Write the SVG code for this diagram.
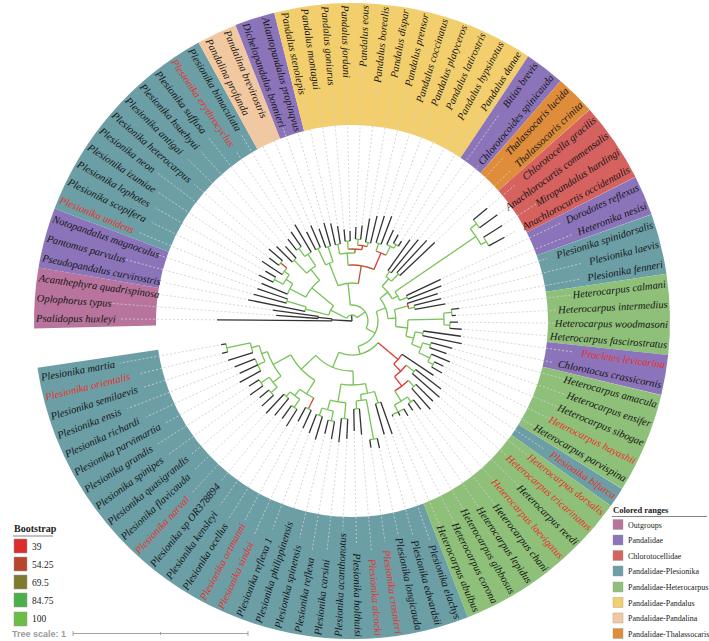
<svg xmlns="http://www.w3.org/2000/svg" width="709" height="641" viewBox="0 0 709 641">
<style>
.bd{fill:none;stroke-width:122}
#branches line,#branches circle{fill:none;stroke-width:1.3}
.k{stroke:#333}
.g{stroke:#78c358}
.r{stroke:#e0392f}
.b{stroke:#b9562f}
#leaders line{stroke:#cfcfcf;stroke-width:0.8;stroke-dasharray:2 2}
text.n{font-family:"Liberation Serif",serif;font-style:italic;font-size:10.5px;fill:#151515;dominant-baseline:central}
text.R{text-anchor:end}
text.L{text-anchor:start}
text.red{fill:#e8302a}
.lg{font-family:"Liberation Serif",serif;fill:#222}
</style>
<rect width="709" height="641" fill="#fff"/>
<g id="bands" transform="translate(352 321)">
<circle class="bd" r="257" pathLength="360" stroke="#b8749c" stroke-dasharray="11.03 360" transform="rotate(178.66)"/>
<circle class="bd" r="257" pathLength="360" stroke="#8c74ba" stroke-dasharray="11.03 360" transform="rotate(189.69)"/>
<circle class="bd" r="257" pathLength="360" stroke="#6c9ea6" stroke-dasharray="40.44 360" transform="rotate(200.72)"/>
<circle class="bd" r="257" pathLength="360" stroke="#f2c8a0" stroke-dasharray="7.35 360" transform="rotate(241.16)"/>
<circle class="bd" r="257" pathLength="360" stroke="#8c74ba" stroke-dasharray="7.35 360" transform="rotate(248.51)"/>
<circle class="bd" r="257" pathLength="360" stroke="#f2ce6d" stroke-dasharray="47.79 360" transform="rotate(255.86)"/>
<circle class="bd" r="257" pathLength="360" stroke="#8c74ba" stroke-dasharray="7.35 360" transform="rotate(303.65)"/>
<circle class="bd" r="257" pathLength="360" stroke="#df8d3b" stroke-dasharray="7.35 360" transform="rotate(311)"/>
<circle class="bd" r="257" pathLength="360" stroke="#d6625f" stroke-dasharray="14.71 360" transform="rotate(318.35)"/>
<circle class="bd" r="257" pathLength="360" stroke="#8c74ba" stroke-dasharray="7.35 360" transform="rotate(333.06)"/>
<circle class="bd" r="257" pathLength="360" stroke="#6c9ea6" stroke-dasharray="11.03 360" transform="rotate(340.41)"/>
<circle class="bd" r="257" pathLength="360" stroke="#8fc07a" stroke-dasharray="14.7 360" transform="rotate(351.44)"/>
<circle class="bd" r="257" pathLength="360" stroke="#8c74ba" stroke-dasharray="7.35 360" transform="rotate(6.14)"/>
<circle class="bd" r="257" pathLength="360" stroke="#8fc07a" stroke-dasharray="18.38 360" transform="rotate(13.49)"/>
<circle class="bd" r="257" pathLength="360" stroke="#6c9ea6" stroke-dasharray="3.67 360" transform="rotate(31.87)"/>
<circle class="bd" r="257" pathLength="360" stroke="#8fc07a" stroke-dasharray="33.09 360" transform="rotate(35.54)"/>
<circle class="bd" r="257" pathLength="360" stroke="#6c9ea6" stroke-dasharray="102.93 360" transform="rotate(68.63)"/>
</g>
<g id="leaders" transform="translate(352 321)">
<line x1="137" x2="232" transform="rotate(180.5)"/><line x1="78" x2="241" transform="rotate(184.18)"/><line x1="82" x2="196" transform="rotate(187.85)"/>
<line x1="108" x2="191" transform="rotate(191.53)"/><line x1="104" x2="236" transform="rotate(195.2)"/><line x1="102" x2="209" transform="rotate(198.88)"/>
<line x1="100" x2="232" transform="rotate(202.56)"/><line x1="106" x2="223" transform="rotate(206.23)"/><line x1="102" x2="227" transform="rotate(209.91)"/>
<line x1="110" x2="232" transform="rotate(213.58)"/><line x1="106" x2="245" transform="rotate(217.26)"/><line x1="112" x2="209" transform="rotate(220.94)"/>
<line x1="108" x2="232" transform="rotate(224.61)"/><line x1="102" x2="227" transform="rotate(228.29)"/><line x1="106" x2="232" transform="rotate(231.96)"/>
<line x1="110" x2="205" transform="rotate(235.64)"/><line x1="114" x2="218" transform="rotate(239.32)"/><line x1="102" x2="232" transform="rotate(242.99)"/>
<line x1="106" x2="214" transform="rotate(246.67)"/><line x1="100" x2="205" transform="rotate(250.34)"/><line x1="104" x2="196" transform="rotate(254.02)"/>
<line x1="102" x2="227" transform="rotate(257.7)"/><line x1="98" x2="236" transform="rotate(261.37)"/><line x1="94" x2="236" transform="rotate(265.05)"/>
<line x1="92" x2="241" transform="rotate(268.72)"/><line x1="96" x2="254" transform="rotate(272.4)"/><line x1="98" x2="236" transform="rotate(276.08)"/>
<line x1="106" x2="245" transform="rotate(279.75)"/><line x1="110" x2="241" transform="rotate(283.43)"/><line x1="112" x2="227" transform="rotate(287.1)"/>
<line x1="114" x2="227" transform="rotate(290.78)"/><line x1="102" x2="223" transform="rotate(294.46)"/><line x1="100" x2="227" transform="rotate(298.13)"/>
<line x1="96" x2="250" transform="rotate(301.81)"/><line x1="102" x2="254" transform="rotate(305.48)"/><line x1="107" x2="200" transform="rotate(309.16)"/>
<line x1="112" x2="223" transform="rotate(312.84)"/><line x1="116" x2="218" transform="rotate(316.51)"/><line x1="178" x2="214" transform="rotate(320.19)"/>
<line x1="182" x2="191" transform="rotate(323.86)"/><line x1="180" x2="218" transform="rotate(327.54)"/><line x1="176" x2="187" transform="rotate(331.22)"/>
<line x1="100" x2="232" transform="rotate(334.89)"/><line x1="98" x2="236" transform="rotate(338.57)"/>
<line x1="92" x2="205" transform="rotate(342.24)"/><line x1="94" x2="236" transform="rotate(345.92)"/><line x1="97" x2="232" transform="rotate(349.6)"/>
<line x1="110" x2="223" transform="rotate(353.27)"/><line x1="106" x2="205" transform="rotate(356.95)"/><line x1="108" x2="209" transform="rotate(0.62)"/>
<line x1="112" x2="195" transform="rotate(4.3)"/><line x1="112" x2="223" transform="rotate(7.97)"/><line x1="114" x2="205" transform="rotate(11.65)"/>
<line x1="106" x2="223" transform="rotate(15.32)"/><line x1="102" x2="227" transform="rotate(19)"/><line x1="108" x2="227" transform="rotate(22.68)"/>
<line x1="104" x2="223" transform="rotate(26.35)"/><line x1="106" x2="214" transform="rotate(30.03)"/><line x1="100" x2="232" transform="rotate(33.7)"/>
<line x1="114" x2="223" transform="rotate(37.38)"/><line x1="118" x2="205" transform="rotate(41.06)"/><line x1="116" x2="236" transform="rotate(44.73)"/>
<line x1="120" x2="214" transform="rotate(48.41)"/><line x1="114" x2="236" transform="rotate(52.08)"/><line x1="110" x2="227" transform="rotate(55.76)"/>
<line x1="112" x2="223" transform="rotate(59.44)"/><line x1="108" x2="232" transform="rotate(63.11)"/><line x1="106" x2="227" transform="rotate(66.79)"/>
<line x1="122" x2="232" transform="rotate(70.46)"/><line x1="120" x2="223" transform="rotate(74.14)"/><line x1="132" x2="218" transform="rotate(77.82)"/>
<line x1="130" x2="223" transform="rotate(81.49)"/><line x1="116" x2="232" transform="rotate(85.17)"/><line x1="112" x2="223" transform="rotate(88.84)"/>
<line x1="120" x2="209" transform="rotate(92.52)"/><line x1="124" x2="232" transform="rotate(96.2)"/><line x1="122" x2="232" transform="rotate(99.87)"/>
<line x1="118" x2="223" transform="rotate(103.55)"/><line x1="126" x2="196" transform="rotate(107.22)"/><line x1="122" x2="223" transform="rotate(110.9)"/>
<line x1="120" x2="236" transform="rotate(114.58)"/><line x1="116" x2="227" transform="rotate(118.25)"/><line x1="126" x2="232" transform="rotate(121.93)"/>
<line x1="122" x2="227" transform="rotate(125.6)"/><line x1="124" x2="208" transform="rotate(129.28)"/><line x1="128" x2="236" transform="rotate(132.96)"/>
<line x1="126" x2="218" transform="rotate(136.63)"/><line x1="122" x2="209" transform="rotate(140.31)"/><line x1="128" x2="227" transform="rotate(143.98)"/>
<line x1="124" x2="232" transform="rotate(147.66)"/><line x1="130" x2="214" transform="rotate(151.34)"/><line x1="126" x2="227" transform="rotate(155.01)"/>
<line x1="128" x2="241" transform="rotate(158.69)"/><line x1="132" x2="218" transform="rotate(162.36)"/><line x1="136" x2="218" transform="rotate(166.04)"/>
<line x1="135" x2="236" transform="rotate(169.72)"/>
</g>
<g id="branches" transform="translate(352 321)">
<line class="k" x2="20" transform="rotate(183.26)"/>
<line class="k" x2="6" transform="rotate(266.3)"/>
<circle class="k" r="20" pathLength="360" stroke-dasharray="5.52 360" transform="rotate(180.5)"/>
<line class="k" x1="20" x2="135" transform="rotate(180.5)"/>
<line class="k" x1="20" x2="34" transform="rotate(186.02)"/>
<circle class="k" r="34" pathLength="360" stroke-dasharray="3.67 360" transform="rotate(184.18)"/>
<line class="k" x1="34" x2="76" transform="rotate(184.18)"/>
<line class="k" x1="34" x2="80" transform="rotate(187.85)"/>
<circle class="g" r="6" pathLength="360" stroke-dasharray="118.86 360" transform="rotate(206.87)"/>
<line class="g" x1="6" x2="24" transform="rotate(206.87)"/>
<line class="g" x1="6" x2="16" transform="rotate(325.73)"/>
<circle class="g" r="24" pathLength="360" stroke-dasharray="25.16 360" transform="rotate(194.29)"/>
<line class="g" x1="24" x2="48" transform="rotate(194.29)"/>
<line class="g" x1="24" x2="52" transform="rotate(219.45)"/>
<circle class="g" r="48" pathLength="360" stroke-dasharray="5.51 360" transform="rotate(191.53)"/>
<line class="k" x1="48" x2="106" transform="rotate(191.53)"/>
<line class="g" x1="48" x2="68" transform="rotate(197.04)"/>
<circle class="g" r="68" pathLength="360" stroke-dasharray="3.68 360" transform="rotate(195.2)"/>
<line class="k" x1="68" x2="102" transform="rotate(195.2)"/>
<line class="k" x1="68" x2="100" transform="rotate(198.88)"/>
<circle class="g" r="52" pathLength="360" stroke-dasharray="24.12 360" transform="rotate(207.39)"/>
<line class="g" x1="52" x2="70" transform="rotate(207.39)"/>
<line class="g" x1="52" x2="66" transform="rotate(231.51)"/>
<circle class="g" r="70" pathLength="360" stroke-dasharray="9.65 360" transform="rotate(202.56)"/>
<line class="k" x1="70" x2="98" transform="rotate(202.56)"/>
<line class="g" x1="70" x2="78" transform="rotate(212.21)"/>
<circle class="g" r="78" pathLength="360" stroke-dasharray="8.27 360" transform="rotate(208.07)"/>
<line class="g" x1="78" x2="88" transform="rotate(208.07)"/>
<line class="g" x1="78" x2="84" transform="rotate(216.34)"/>
<circle class="g" r="88" pathLength="360" stroke-dasharray="3.68 360" transform="rotate(206.23)"/>
<line class="k" x1="88" x2="104" transform="rotate(206.23)"/>
<line class="k" x1="88" x2="100" transform="rotate(209.91)"/>
<circle class="g" r="84" pathLength="360" stroke-dasharray="5.52 360" transform="rotate(213.58)"/>
<line class="k" x1="84" x2="108" transform="rotate(213.58)"/>
<line class="r" x1="84" x2="92" transform="rotate(219.1)"/>
<circle class="g" r="92" pathLength="360" stroke-dasharray="3.68 360" transform="rotate(217.26)"/>
<line class="k" x1="92" x2="104" transform="rotate(217.26)"/>
<line class="k" x1="92" x2="110" transform="rotate(220.94)"/>
<circle class="g" r="66" pathLength="360" stroke-dasharray="10.11 360" transform="rotate(226.45)"/>
<line class="g" x1="66" x2="84" transform="rotate(226.45)"/>
<line class="g" x1="66" x2="80" transform="rotate(236.56)"/>
<circle class="g" r="84" pathLength="360" stroke-dasharray="3.68 360" transform="rotate(224.61)"/>
<line class="k" x1="84" x2="106" transform="rotate(224.61)"/>
<line class="k" x1="84" x2="100" transform="rotate(228.29)"/>
<circle class="g" r="80" pathLength="360" stroke-dasharray="5.52 360" transform="rotate(233.8)"/>
<line class="g" x1="80" x2="90" transform="rotate(233.8)"/>
<line class="k" x1="80" x2="112" transform="rotate(239.32)"/>
<circle class="g" r="90" pathLength="360" stroke-dasharray="3.68 360" transform="rotate(231.96)"/>
<line class="k" x1="90" x2="104" transform="rotate(231.96)"/>
<line class="k" x1="90" x2="108" transform="rotate(235.64)"/>
<circle class="g" r="16" pathLength="360" stroke-dasharray="123.41 360" transform="rotate(264.02)"/>
<line class="g" x1="16" x2="38" transform="rotate(264.02)"/>
<line class="g" x1="16" x2="26" transform="rotate(387.43)"/>
<circle class="g" r="38" pathLength="360" stroke-dasharray="31.02 360" transform="rotate(248.51)"/>
<line class="g" x1="38" x2="62" transform="rotate(248.51)"/>
<line class="b" x1="38" x2="56" transform="rotate(279.53)"/>
<circle class="g" r="62" pathLength="360" stroke-dasharray="7.35 360" transform="rotate(244.83)"/>
<line class="g" x1="62" x2="80" transform="rotate(244.83)"/>
<line class="g" x1="62" x2="78" transform="rotate(252.18)"/>
<circle class="g" r="80" pathLength="360" stroke-dasharray="3.68 360" transform="rotate(242.99)"/>
<line class="k" x1="80" x2="100" transform="rotate(242.99)"/>
<line class="k" x1="80" x2="104" transform="rotate(246.67)"/>
<circle class="g" r="78" pathLength="360" stroke-dasharray="3.68 360" transform="rotate(250.34)"/>
<line class="k" x1="78" x2="98" transform="rotate(250.34)"/>
<line class="k" x1="78" x2="102" transform="rotate(254.02)"/>
<circle class="b" r="56" pathLength="360" stroke-dasharray="27.1 360" transform="rotate(265.98)"/>
<line class="g" x1="56" x2="68" transform="rotate(265.98)"/>
<line class="r" x1="56" x2="74" transform="rotate(293.08)"/>
<circle class="g" r="68" pathLength="360" stroke-dasharray="12.87 360" transform="rotate(259.54)"/>
<line class="g" x1="68" x2="78" transform="rotate(259.54)"/>
<line class="b" x1="68" x2="72" transform="rotate(272.41)"/>
<circle class="g" r="78" pathLength="360" stroke-dasharray="3.67 360" transform="rotate(257.7)"/>
<line class="k" x1="78" x2="100" transform="rotate(257.7)"/>
<line class="k" x1="78" x2="96" transform="rotate(261.37)"/>
<circle class="b" r="72" pathLength="360" stroke-dasharray="11.03 360" transform="rotate(266.89)"/>
<line class="g" x1="72" x2="80" transform="rotate(266.89)"/>
<line class="r" x1="72" x2="76" transform="rotate(277.92)"/>
<circle class="g" r="80" pathLength="360" stroke-dasharray="3.67 360" transform="rotate(265.05)"/>
<line class="k" x1="80" x2="92" transform="rotate(265.05)"/>
<line class="k" x1="80" x2="90" transform="rotate(268.72)"/>
<circle class="r" r="76" pathLength="360" stroke-dasharray="7.35 360" transform="rotate(274.24)"/>
<line class="g" x1="76" x2="82" transform="rotate(274.24)"/>
<line class="g" x1="76" x2="80" transform="rotate(281.59)"/>
<circle class="g" r="82" pathLength="360" stroke-dasharray="3.68 360" transform="rotate(272.4)"/>
<line class="k" x1="82" x2="94" transform="rotate(272.4)"/>
<line class="k" x1="82" x2="96" transform="rotate(276.08)"/>
<circle class="g" r="80" pathLength="360" stroke-dasharray="3.68 360" transform="rotate(279.75)"/>
<line class="k" x1="80" x2="104" transform="rotate(279.75)"/>
<line class="k" x1="80" x2="108" transform="rotate(283.43)"/>
<circle class="r" r="74" pathLength="360" stroke-dasharray="8.28 360" transform="rotate(288.94)"/>
<line class="g" x1="74" x2="82" transform="rotate(288.94)"/>
<line class="g" x1="74" x2="84" transform="rotate(297.22)"/>
<circle class="g" r="82" pathLength="360" stroke-dasharray="3.68 360" transform="rotate(287.1)"/>
<line class="k" x1="82" x2="110" transform="rotate(287.1)"/>
<line class="k" x1="82" x2="112" transform="rotate(290.78)"/>
<circle class="g" r="84" pathLength="360" stroke-dasharray="5.51 360" transform="rotate(294.46)"/>
<line class="k" x1="84" x2="100" transform="rotate(294.46)"/>
<line class="g" x1="84" x2="88" transform="rotate(299.97)"/>
<circle class="g" r="88" pathLength="360" stroke-dasharray="3.68 360" transform="rotate(298.13)"/>
<line class="k" x1="88" x2="98" transform="rotate(298.13)"/>
<line class="k" x1="88" x2="94" transform="rotate(301.81)"/>
<circle class="g" r="26" pathLength="360" stroke-dasharray="97.65 360" transform="rotate(338.6)"/>
<line class="g" x1="26" x2="36" transform="rotate(338.6)"/>
<line class="g" x1="26" x2="34" transform="rotate(436.25)"/>
<circle class="g" r="36" pathLength="360" stroke-dasharray="34.98 360" transform="rotate(321.11)"/>
<line class="g" x1="36" x2="46" transform="rotate(321.11)"/>
<line class="g" x1="36" x2="44" transform="rotate(356.09)"/>
<circle class="g" r="46" pathLength="360" stroke-dasharray="20.22 360" transform="rotate(311)"/>
<line class="g" x1="46" x2="56" transform="rotate(311)"/>
<line class="g" x1="46" x2="52" transform="rotate(331.22)"/>
<circle class="g" r="56" pathLength="360" stroke-dasharray="7.36 360" transform="rotate(307.32)"/>
<line class="g" x1="56" x2="62" transform="rotate(307.32)"/>
<line class="g" x1="56" x2="66" transform="rotate(314.68)"/>
<circle class="g" r="62" pathLength="360" stroke-dasharray="3.68 360" transform="rotate(305.48)"/>
<line class="k" x1="62" x2="100" transform="rotate(305.48)"/>
<line class="k" x1="62" x2="105" transform="rotate(309.16)"/>
<circle class="g" r="66" pathLength="360" stroke-dasharray="3.67 360" transform="rotate(312.84)"/>
<line class="k" x1="66" x2="110" transform="rotate(312.84)"/>
<line class="k" x1="66" x2="114" transform="rotate(316.51)"/>
<circle class="g" r="52" pathLength="360" stroke-dasharray="11.02 360" transform="rotate(325.71)"/>
<line class="g" x1="52" x2="150" transform="rotate(325.71)"/>
<line class="g" x1="52" x2="60" transform="rotate(336.73)"/>
<circle class="g" r="150" pathLength="360" stroke-dasharray="7.35 360" transform="rotate(322.03)"/>
<line class="g" x1="150" x2="158" transform="rotate(322.03)"/>
<line class="g" x1="150" x2="156" transform="rotate(329.38)"/>
<circle class="g" r="158" pathLength="360" stroke-dasharray="3.67 360" transform="rotate(320.19)"/>
<line class="k" x1="158" x2="176" transform="rotate(320.19)"/>
<line class="k" x1="158" x2="180" transform="rotate(323.86)"/>
<circle class="g" r="156" pathLength="360" stroke-dasharray="3.68 360" transform="rotate(327.54)"/>
<line class="k" x1="156" x2="178" transform="rotate(327.54)"/>
<line class="k" x1="156" x2="174" transform="rotate(331.22)"/>
<circle class="g" r="60" pathLength="360" stroke-dasharray="3.68 360" transform="rotate(334.89)"/>
<line class="k" x1="60" x2="98" transform="rotate(334.89)"/>
<line class="k" x1="60" x2="96" transform="rotate(338.57)"/>
<circle class="g" r="44" pathLength="360" stroke-dasharray="22.18 360" transform="rotate(345)"/>
<line class="g" x1="44" x2="58" transform="rotate(345)"/>
<line class="g" x1="44" x2="56" transform="rotate(367.18)"/>
<circle class="r" r="58" pathLength="360" stroke-dasharray="5.52 360" transform="rotate(342.24)"/>
<line class="k" x1="58" x2="90" transform="rotate(342.24)"/>
<line class="g" x1="58" x2="64" transform="rotate(347.76)"/>
<circle class="g" r="64" pathLength="360" stroke-dasharray="3.68 360" transform="rotate(345.92)"/>
<line class="k" x1="64" x2="92" transform="rotate(345.92)"/>
<line class="k" x1="64" x2="95" transform="rotate(349.6)"/>
<circle class="g" r="56" pathLength="360" stroke-dasharray="16.77 360" transform="rotate(358.79)"/>
<line class="g" x1="56" x2="92" transform="rotate(358.79)"/>
<line class="g" x1="56" x2="64" transform="rotate(375.56)"/>
<circle class="g" r="92" pathLength="360" stroke-dasharray="7.35 360" transform="rotate(355.11)"/>
<line class="g" x1="92" x2="100" transform="rotate(355.11)"/>
<line class="g" x1="92" x2="98" transform="rotate(362.46)"/>
<circle class="g" r="100" pathLength="360" stroke-dasharray="3.68 360" transform="rotate(353.27)"/>
<line class="k" x1="100" x2="108" transform="rotate(353.27)"/>
<line class="k" x1="100" x2="104" transform="rotate(356.95)"/>
<circle class="g" r="98" pathLength="360" stroke-dasharray="3.68 360" transform="rotate(360.62)"/>
<line class="k" x1="98" x2="106" transform="rotate(360.62)"/>
<line class="k" x1="98" x2="110" transform="rotate(364.3)"/>
<circle class="g" r="64" pathLength="360" stroke-dasharray="11.49 360" transform="rotate(369.81)"/>
<line class="g" x1="64" x2="72" transform="rotate(369.81)"/>
<line class="g" x1="64" x2="74" transform="rotate(381.3)"/>
<circle class="g" r="72" pathLength="360" stroke-dasharray="3.68 360" transform="rotate(367.97)"/>
<line class="k" x1="72" x2="110" transform="rotate(367.97)"/>
<line class="k" x1="72" x2="112" transform="rotate(371.65)"/>
<circle class="g" r="74" pathLength="360" stroke-dasharray="8.28 360" transform="rotate(377.16)"/>
<line class="g" x1="74" x2="82" transform="rotate(377.16)"/>
<line class="g" x1="74" x2="86" transform="rotate(385.44)"/>
<circle class="g" r="82" pathLength="360" stroke-dasharray="3.68 360" transform="rotate(375.32)"/>
<line class="k" x1="82" x2="104" transform="rotate(375.32)"/>
<line class="k" x1="82" x2="100" transform="rotate(379)"/>
<circle class="g" r="86" pathLength="360" stroke-dasharray="5.51 360" transform="rotate(382.68)"/>
<line class="k" x1="86" x2="106" transform="rotate(382.68)"/>
<line class="g" x1="86" x2="92" transform="rotate(388.19)"/>
<circle class="g" r="92" pathLength="360" stroke-dasharray="3.68 360" transform="rotate(386.35)"/>
<line class="k" x1="92" x2="102" transform="rotate(386.35)"/>
<line class="k" x1="92" x2="104" transform="rotate(390.03)"/>
<circle class="g" r="34" pathLength="360" stroke-dasharray="72.89 360" transform="rotate(399.8)"/>
<line class="r" x1="34" x2="60" transform="rotate(399.8)"/>
<line class="g" x1="34" x2="50" transform="rotate(472.69)"/>
<circle class="r" r="60" pathLength="360" stroke-dasharray="12.19 360" transform="rotate(393.7)"/>
<line class="k" x1="60" x2="98" transform="rotate(393.7)"/>
<line class="r" x1="60" x2="70" transform="rotate(405.89)"/>
<circle class="r" r="70" pathLength="360" stroke-dasharray="13.33 360" transform="rotate(399.22)"/>
<line class="g" x1="70" x2="80" transform="rotate(399.22)"/>
<line class="r" x1="70" x2="82" transform="rotate(412.55)"/>
<circle class="g" r="80" pathLength="360" stroke-dasharray="3.68 360" transform="rotate(397.38)"/>
<line class="k" x1="80" x2="112" transform="rotate(397.38)"/>
<line class="k" x1="80" x2="116" transform="rotate(401.06)"/>
<circle class="r" r="82" pathLength="360" stroke-dasharray="11.95 360" transform="rotate(406.57)"/>
<line class="g" x1="82" x2="90" transform="rotate(406.57)"/>
<line class="g" x1="82" x2="94" transform="rotate(418.52)"/>
<circle class="g" r="90" pathLength="360" stroke-dasharray="3.68 360" transform="rotate(404.73)"/>
<line class="k" x1="90" x2="114" transform="rotate(404.73)"/>
<line class="k" x1="90" x2="118" transform="rotate(408.41)"/>
<circle class="g" r="94" pathLength="360" stroke-dasharray="9.2 360" transform="rotate(413.92)"/>
<line class="g" x1="94" x2="100" transform="rotate(413.92)"/>
<line class="g" x1="94" x2="102" transform="rotate(423.12)"/>
<circle class="g" r="100" pathLength="360" stroke-dasharray="3.68 360" transform="rotate(412.08)"/>
<line class="k" x1="100" x2="112" transform="rotate(412.08)"/>
<line class="k" x1="100" x2="108" transform="rotate(415.76)"/>
<circle class="g" r="102" pathLength="360" stroke-dasharray="7.35 360" transform="rotate(419.44)"/>
<line class="k" x1="102" x2="110" transform="rotate(419.44)"/>
<line class="k" x1="102" x2="106" transform="rotate(423.11)"/>
<line class="k" x1="102" x2="104" transform="rotate(426.79)"/>
<circle class="g" r="50" pathLength="360" stroke-dasharray="47.68 360" transform="rotate(448.85)"/>
<line class="g" x1="50" x2="64" transform="rotate(448.85)"/>
<line class="g" x1="50" x2="70" transform="rotate(496.53)"/>
<circle class="g" r="64" pathLength="360" stroke-dasharray="22.06 360" transform="rotate(437.82)"/>
<line class="g" x1="64" x2="74" transform="rotate(437.82)"/>
<line class="g" x1="64" x2="82" transform="rotate(459.88)"/>
<circle class="g" r="74" pathLength="360" stroke-dasharray="11.04 360" transform="rotate(432.3)"/>
<line class="g" x1="74" x2="86" transform="rotate(432.3)"/>
<line class="g" x1="74" x2="80" transform="rotate(443.34)"/>
<circle class="g" r="86" pathLength="360" stroke-dasharray="3.68 360" transform="rotate(430.46)"/>
<line class="k" x1="86" x2="120" transform="rotate(430.46)"/>
<line class="k" x1="86" x2="118" transform="rotate(434.14)"/>
<circle class="g" r="80" pathLength="360" stroke-dasharray="7.35 360" transform="rotate(439.66)"/>
<line class="g" x1="80" x2="120" transform="rotate(439.66)"/>
<line class="g" x1="80" x2="88" transform="rotate(447.01)"/>
<circle class="g" r="120" pathLength="360" stroke-dasharray="3.67 360" transform="rotate(437.82)"/>
<line class="k" x1="120" x2="130" transform="rotate(437.82)"/>
<line class="k" x1="120" x2="128" transform="rotate(441.49)"/>
<circle class="g" r="88" pathLength="360" stroke-dasharray="3.67 360" transform="rotate(445.17)"/>
<line class="k" x1="88" x2="114" transform="rotate(445.17)"/>
<line class="k" x1="88" x2="110" transform="rotate(448.84)"/>
<circle class="g" r="82" pathLength="360" stroke-dasharray="11.03 360" transform="rotate(454.36)"/>
<line class="g" x1="82" x2="98" transform="rotate(454.36)"/>
<line class="g" x1="82" x2="92" transform="rotate(465.39)"/>
<circle class="g" r="98" pathLength="360" stroke-dasharray="3.68 360" transform="rotate(452.52)"/>
<line class="k" x1="98" x2="118" transform="rotate(452.52)"/>
<line class="k" x1="98" x2="122" transform="rotate(456.2)"/>
<circle class="g" r="92" pathLength="360" stroke-dasharray="7.35 360" transform="rotate(461.71)"/>
<line class="g" x1="92" x2="102" transform="rotate(461.71)"/>
<line class="g" x1="92" x2="100" transform="rotate(469.06)"/>
<circle class="g" r="102" pathLength="360" stroke-dasharray="3.68 360" transform="rotate(459.87)"/>
<line class="k" x1="102" x2="120" transform="rotate(459.87)"/>
<line class="k" x1="102" x2="116" transform="rotate(463.55)"/>
<circle class="g" r="100" pathLength="360" stroke-dasharray="3.68 360" transform="rotate(467.22)"/>
<line class="k" x1="100" x2="124" transform="rotate(467.22)"/>
<line class="k" x1="100" x2="120" transform="rotate(470.9)"/>
<circle class="g" r="70" pathLength="360" stroke-dasharray="29.17 360" transform="rotate(481.94)"/>
<line class="g" x1="70" x2="86" transform="rotate(481.94)"/>
<line class="g" x1="70" x2="90" transform="rotate(511.11)"/>
<circle class="g" r="86" pathLength="360" stroke-dasharray="11.03 360" transform="rotate(476.42)"/>
<line class="r" x1="86" x2="98" transform="rotate(476.42)"/>
<line class="g" x1="86" x2="94" transform="rotate(487.45)"/>
<circle class="g" r="98" pathLength="360" stroke-dasharray="3.67 360" transform="rotate(474.58)"/>
<line class="k" x1="98" x2="118" transform="rotate(474.58)"/>
<line class="k" x1="98" x2="114" transform="rotate(478.25)"/>
<circle class="g" r="94" pathLength="360" stroke-dasharray="7.35 360" transform="rotate(483.77)"/>
<line class="g" x1="94" x2="104" transform="rotate(483.77)"/>
<line class="g" x1="94" x2="100" transform="rotate(491.12)"/>
<circle class="g" r="104" pathLength="360" stroke-dasharray="3.67 360" transform="rotate(481.93)"/>
<line class="k" x1="104" x2="124" transform="rotate(481.93)"/>
<line class="k" x1="104" x2="120" transform="rotate(485.6)"/>
<circle class="g" r="100" pathLength="360" stroke-dasharray="3.68 360" transform="rotate(489.28)"/>
<line class="k" x1="100" x2="122" transform="rotate(489.28)"/>
<line class="k" x1="100" x2="126" transform="rotate(492.96)"/>
<circle class="g" r="90" pathLength="360" stroke-dasharray="17.92 360" transform="rotate(502.15)"/>
<line class="g" x1="90" x2="100" transform="rotate(502.15)"/>
<line class="g" x1="90" x2="96" transform="rotate(520.07)"/>
<circle class="g" r="100" pathLength="360" stroke-dasharray="7.35 360" transform="rotate(498.47)"/>
<line class="g" x1="100" x2="108" transform="rotate(498.47)"/>
<line class="g" x1="100" x2="110" transform="rotate(505.82)"/>
<circle class="g" r="108" pathLength="360" stroke-dasharray="3.68 360" transform="rotate(496.63)"/>
<line class="k" x1="108" x2="124" transform="rotate(496.63)"/>
<line class="k" x1="108" x2="120" transform="rotate(500.31)"/>
<circle class="g" r="110" pathLength="360" stroke-dasharray="3.68 360" transform="rotate(503.98)"/>
<line class="k" x1="110" x2="126" transform="rotate(503.98)"/>
<line class="k" x1="110" x2="122" transform="rotate(507.66)"/>
<circle class="g" r="96" pathLength="360" stroke-dasharray="10.1 360" transform="rotate(515.02)"/>
<line class="g" x1="96" x2="104" transform="rotate(515.02)"/>
<line class="g" x1="96" x2="104" transform="rotate(525.12)"/>
<circle class="g" r="104" pathLength="360" stroke-dasharray="7.35 360" transform="rotate(511.34)"/>
<line class="k" x1="104" x2="128" transform="rotate(511.34)"/>
<line class="k" x1="104" x2="124" transform="rotate(515.01)"/>
<line class="k" x1="104" x2="126" transform="rotate(518.69)"/>
<circle class="g" r="104" pathLength="360" stroke-dasharray="5.52 360" transform="rotate(522.36)"/>
<line class="k" x1="104" x2="130" transform="rotate(522.36)"/>
<line class="g" x1="104" x2="128" transform="rotate(527.88)"/>
<circle class="g" r="128" pathLength="360" stroke-dasharray="3.68 360" transform="rotate(526.04)"/>
<line class="k" x1="128" x2="134" transform="rotate(526.04)"/>
<line class="k" x1="128" x2="133" transform="rotate(529.72)"/>
</g>
<g id="labels" transform="translate(352 321)">
<g id="n1"><text class="n L" transform="rotate(180.5) translate(316) rotate(180)">Psalidopus huxleyi</text></g>
<g id="n2"><text class="n L" transform="rotate(184.18) translate(316) rotate(180)">Oplophorus typus</text></g>
<g id="n3"><text class="n L" transform="rotate(187.85) translate(316) rotate(180)">Acanthephyra quadrispinosa</text></g>
<g id="n4"><text class="n L" transform="rotate(191.53) translate(316) rotate(180)">Pseudopandalus curvirostris</text></g>
<g id="n5"><text class="n L" transform="rotate(195.2) translate(316) rotate(180)">Pantomus parvulus</text></g>
<g id="n6"><text class="n L" transform="rotate(198.88) translate(316) rotate(180)">Notopandalus magnoculus</text></g>
<g id="n7"><text class="n L red" transform="rotate(202.56) translate(316) rotate(180)">Plesionika unidens</text></g>
<g id="n8"><text class="n L" transform="rotate(206.23) translate(316) rotate(180)">Plesionika scopifera</text></g>
<g id="n9"><text class="n L" transform="rotate(209.91) translate(316) rotate(180)">Plesionika lophotes</text></g>
<g id="n10"><text class="n L" transform="rotate(213.58) translate(316) rotate(180)">Plesionika izumiae</text></g>
<g id="n11"><text class="n L" transform="rotate(217.26) translate(316) rotate(180)">Plesionika neon</text></g>
<g id="n12"><text class="n L" transform="rotate(220.94) translate(316) rotate(180)">Plesionika heterocarpus</text></g>
<g id="n13"><text class="n L" transform="rotate(224.61) translate(316) rotate(180)">Plesionika antigai</text></g>
<g id="n14"><text class="n L" transform="rotate(228.29) translate(316) rotate(180)">Plesionika hsuehyui</text></g>
<g id="n15"><text class="n L" transform="rotate(231.96) translate(316) rotate(180)">Plesionika suffusa</text></g>
<g id="n16"><text class="n L red" transform="rotate(235.64) translate(316) rotate(180)">Plesionika erythrocyclus</text></g>
<g id="n17"><text class="n L" transform="rotate(239.32) translate(316) rotate(180)">Plesionika bimaculata</text></g>
<g id="n18"><text class="n L" transform="rotate(242.99) translate(316) rotate(180)">Pandalina profunda</text></g>
<g id="n19"><text class="n L" transform="rotate(246.67) translate(316) rotate(180)">Pandalina brevirostris</text></g>
<g id="n20"><text class="n L" transform="rotate(250.34) translate(316) rotate(180)">Dichelopandalus bonnieri</text></g>
<g id="n21"><text class="n L" transform="rotate(254.02) translate(316) rotate(180)">Atlantopandalus propinqvus</text></g>
<g id="n22"><text class="n L" transform="rotate(257.7) translate(316) rotate(180)">Pandalus stenolepis</text></g>
<g id="n23"><text class="n L" transform="rotate(261.37) translate(316) rotate(180)">Pandalus montagui</text></g>
<g id="n24"><text class="n L" transform="rotate(265.05) translate(316) rotate(180)">Pandalus goniurus</text></g>
<g id="n25"><text class="n L" transform="rotate(268.72) translate(316) rotate(180)">Pandalus jordani</text></g>
<g id="n26"><text class="n R" transform="rotate(272.4) translate(316)">Pandalus eous</text></g>
<g id="n27"><text class="n R" transform="rotate(276.08) translate(316)">Pandalus borealis</text></g>
<g id="n28"><text class="n R" transform="rotate(279.75) translate(316)">Pandalus dispar</text></g>
<g id="n29"><text class="n R" transform="rotate(283.43) translate(316)">Pandalus prensor</text></g>
<g id="n30"><text class="n R" transform="rotate(287.1) translate(316)">Pandalus coccinatus</text></g>
<g id="n31"><text class="n R" transform="rotate(290.78) translate(316)">Pandalus platyceros</text></g>
<g id="n32"><text class="n R" transform="rotate(294.46) translate(316)">Pandalus latirostris</text></g>
<g id="n33"><text class="n R" transform="rotate(298.13) translate(316)">Pandalus hypsinotus</text></g>
<g id="n34"><text class="n R" transform="rotate(301.81) translate(316)">Pandalus danae</text></g>
<g id="n35"><text class="n R" transform="rotate(305.48) translate(316)">Bitias brevis</text></g>
<g id="n36"><text class="n R" transform="rotate(309.16) translate(316)">Chlorotocoides spinicauda</text></g>
<g id="n37"><text class="n R" transform="rotate(312.84) translate(316)">Thalassocaris lucida</text></g>
<g id="n38"><text class="n R" transform="rotate(316.51) translate(316)">Thalassocaris crinita</text></g>
<g id="n39"><text class="n R" transform="rotate(320.19) translate(316)">Chlorotocella gracilis</text></g>
<g id="n40"><text class="n R" transform="rotate(323.86) translate(316)">Anachlorocurtis commensalis</text></g>
<g id="n41"><text class="n R" transform="rotate(327.54) translate(316)">Miropandalus hardingi</text></g>
<g id="n42"><text class="n R" transform="rotate(331.22) translate(316)">Anachlorocurtis occidentalis</text></g>
<g id="n43"><text class="n R" transform="rotate(334.89) translate(316)">Dorodotes reflexus</text></g>
<g id="n44"><text class="n R" transform="rotate(338.57) translate(316)">Heteronika nesisi</text></g>
<g id="n45"><text class="n R" transform="rotate(342.24) translate(316)">Plesionika spinidorsalis</text></g>
<g id="n46"><text class="n R" transform="rotate(345.92) translate(316)">Plesionika laevis</text></g>
<g id="n47"><text class="n R" transform="rotate(349.6) translate(316)">Plesionika fenneri</text></g>
<g id="n48"><text class="n R" transform="rotate(353.27) translate(316)">Heterocarpus calmani</text></g>
<g id="n49"><text class="n R" transform="rotate(356.95) translate(316)">Heterocarpus intermedius</text></g>
<g id="n50"><text class="n R" transform="rotate(0.62) translate(316)">Heterocarpus woodmasoni</text></g>
<g id="n51"><text class="n R" transform="rotate(4.3) translate(316)">Heterocarpus fascirostratus</text></g>
<g id="n52"><text class="n R red" transform="rotate(7.97) translate(316)">Procletes levicarina</text></g>
<g id="n53"><text class="n R" transform="rotate(11.65) translate(316)">Chlorotocus crassicornis</text></g>
<g id="n54"><text class="n R" transform="rotate(15.32) translate(316)">Heterocarpus amacula</text></g>
<g id="n55"><text class="n R" transform="rotate(19) translate(316)">Heterocarpus ensifer</text></g>
<g id="n56"><text class="n R" transform="rotate(22.68) translate(316)">Heterocarpus sibogae</text></g>
<g id="n57"><text class="n R red" transform="rotate(26.35) translate(316)">Heterocarpus hayashii</text></g>
<g id="n58"><text class="n R" transform="rotate(30.03) translate(316)">Heterocarpus parvispina</text></g>
<g id="n59"><text class="n R red" transform="rotate(33.7) translate(316)">Plesionika bifurca</text></g>
<g id="n60"><text class="n R red" transform="rotate(37.38) translate(316)">Heterocarpus dorsalis</text></g>
<g id="n61"><text class="n R red" transform="rotate(41.06) translate(316)">Heterocarpus tricarinatus</text></g>
<g id="n62"><text class="n R" transform="rotate(44.73) translate(316)">Heterocarpus reedi</text></g>
<g id="n63"><text class="n R red" transform="rotate(48.41) translate(316)">Heterocarpus laevigatus</text></g>
<g id="n64"><text class="n R" transform="rotate(52.08) translate(316)">Heterocarpus chani</text></g>
<g id="n65"><text class="n R" transform="rotate(55.76) translate(316)">Heterocarpus lepidus</text></g>
<g id="n66"><text class="n R" transform="rotate(59.44) translate(316)">Heterocarpus gibbosus</text></g>
<g id="n67"><text class="n R" transform="rotate(63.11) translate(316)">Heterocarpus corona</text></g>
<g id="n68"><text class="n R" transform="rotate(66.79) translate(316)">Heterocarpus abulbus</text></g>
<g id="n69"><text class="n R" transform="rotate(70.46) translate(316)">Plesionika elachys</text></g>
<g id="n70"><text class="n R" transform="rotate(74.14) translate(316)">Plesionika edwardsii</text></g>
<g id="n71"><text class="n R" transform="rotate(77.82) translate(316)">Plesionika longicauda</text></g>
<g id="n72"><text class="n R red" transform="rotate(81.49) translate(316)">Plesionika crosnieri</text></g>
<g id="n73"><text class="n R red" transform="rotate(85.17) translate(316)">Plesionika alcocki</text></g>
<g id="n74"><text class="n R" transform="rotate(88.84) translate(316)">Plesionika holthuisi</text></g>
<g id="n75"><text class="n L" transform="rotate(92.52) translate(316) rotate(180)">Plesionika acanthonotus</text></g>
<g id="n76"><text class="n L" transform="rotate(96.2) translate(316) rotate(180)">Plesionika carsini</text></g>
<g id="n77"><text class="n L" transform="rotate(99.87) translate(316) rotate(180)">Plesionika reflexa</text></g>
<g id="n78"><text class="n L" transform="rotate(103.55) translate(316) rotate(180)">Plesionika spinensis</text></g>
<g id="n79"><text class="n L" transform="rotate(107.22) translate(316) rotate(180)">Plesionika philippinensis</text></g>
<g id="n80"><text class="n L" transform="rotate(110.9) translate(316) rotate(180)">Plesionika reflexa 1</text></g>
<g id="n81"><text class="n L red" transform="rotate(114.58) translate(316) rotate(180)">Plesionika sindoi</text></g>
<g id="n82"><text class="n L red" transform="rotate(118.25) translate(316) rotate(180)">Plesionika ortmanni</text></g>
<g id="n83"><text class="n L" transform="rotate(121.93) translate(316) rotate(180)">Plesionika ocellus</text></g>
<g id="n84"><text class="n L" transform="rotate(125.6) translate(316) rotate(180)">Plesionika kensleyi</text></g>
<g id="n85"><text class="n L" transform="rotate(129.28) translate(316) rotate(180)">Plesionika sp OR378894</text></g>
<g id="n86"><text class="n L red" transform="rotate(132.96) translate(316) rotate(180)">Plesionika narval</text></g>
<g id="n87"><text class="n L" transform="rotate(136.63) translate(316) rotate(180)">Plesionika flavicauda</text></g>
<g id="n88"><text class="n L" transform="rotate(140.31) translate(316) rotate(180)">Plesionika quasigrandis</text></g>
<g id="n89"><text class="n L" transform="rotate(143.98) translate(316) rotate(180)">Plesionika spinipes</text></g>
<g id="n90"><text class="n L" transform="rotate(147.66) translate(316) rotate(180)">Plesionika grandis</text></g>
<g id="n91"><text class="n L" transform="rotate(151.34) translate(316) rotate(180)">Plesionika parvimartia</text></g>
<g id="n92"><text class="n L" transform="rotate(155.01) translate(316) rotate(180)">Plesionika richardi</text></g>
<g id="n93"><text class="n L" transform="rotate(158.69) translate(316) rotate(180)">Plesionika ensis</text></g>
<g id="n94"><text class="n L" transform="rotate(162.36) translate(316) rotate(180)">Plesionika semilaevis</text></g>
<g id="n95"><text class="n L red" transform="rotate(166.04) translate(316) rotate(180)">Plesionika orientalis</text></g>
<g id="n96"><text class="n L" transform="rotate(169.72) translate(316) rotate(180)">Plesionika martia</text></g>
</g>
<g id="bootstrap-legend">
<text class="lg" x="14" y="532" font-size="10" font-weight="bold">Bootstrap</text>
<line x1="13" y1="536" x2="53" y2="536" stroke="#666" stroke-width="0.8"/>
<rect x="14" y="539" width="13" height="14" fill="#dd2c2c" stroke="#999" stroke-width="0.5"/>
<rect x="14" y="557" width="13" height="14" fill="#b8462b" stroke="#999" stroke-width="0.5"/>
<rect x="14" y="575" width="13" height="14" fill="#7f7b2e" stroke="#999" stroke-width="0.5"/>
<rect x="14" y="593" width="13" height="14" fill="#4caf4a" stroke="#999" stroke-width="0.5"/>
<rect x="14" y="612" width="13" height="14" fill="#6cbd45" stroke="#999" stroke-width="0.5"/>
<text class="lg" x="32" y="549.5" font-size="9.5">39</text>
<text class="lg" x="32" y="567.5" font-size="9.5">54.25</text>
<text class="lg" x="32" y="585.5" font-size="9.5">69.5</text>
<text class="lg" x="32" y="603.5" font-size="9.5">84.75</text>
<text class="lg" x="32" y="622" font-size="9.5">100</text>
</g>
<g id="tree-scale">
<text x="12" y="637" font-family="Liberation Sans, sans-serif" font-weight="bold" font-size="9" fill="#9a9a9a">Tree scale: 1</text>
<g stroke="#9a9a9a" stroke-width="0.9">
<line x1="73" y1="633.5" x2="248" y2="633.5"/>
<line x1="73" y1="631" x2="73" y2="636"/>
<line x1="160.5" y1="632" x2="160.5" y2="635"/>
<line x1="248" y1="631" x2="248" y2="636"/>
</g>
</g>
<g id="ranges-legend">
<text class="lg" x="613" y="513" font-size="8.5" font-weight="bold">Colored ranges</text>
<line x1="612" y1="516.5" x2="707" y2="516.5" stroke="#666" stroke-width="0.8"/>
<rect x="613" y="519.5" width="10" height="10" fill="#b8749c" stroke="#999" stroke-width="0.4"/>
<rect x="613" y="535" width="10" height="10" fill="#8c74ba" stroke="#999" stroke-width="0.4"/>
<rect x="613" y="550.5" width="10" height="10" fill="#d6625f" stroke="#999" stroke-width="0.4"/>
<rect x="613" y="566" width="10" height="10" fill="#6c9ea6" stroke="#999" stroke-width="0.4"/>
<rect x="613" y="582" width="10" height="10" fill="#8fc07a" stroke="#999" stroke-width="0.4"/>
<rect x="613" y="597.5" width="10" height="10" fill="#f2ce6d" stroke="#999" stroke-width="0.4"/>
<rect x="613" y="613" width="10" height="10" fill="#f2c8a0" stroke="#999" stroke-width="0.4"/>
<rect x="613" y="628.5" width="10" height="10" fill="#df8d3b" stroke="#999" stroke-width="0.4"/>
<g class="lg" font-size="8">
<text x="628" y="527.5">Outgroups</text>
<text x="628" y="543">Pandalidae</text>
<text x="628" y="558.5">Chlorotocellidae</text>
<text x="628" y="574">Pandalidae-Plesionika</text>
<text x="628" y="590">Pandalidae-Heterocarpus</text>
<text x="628" y="605.5">Pandalidae-Pandalus</text>
<text x="628" y="621">Pandalidae-Pandalina</text>
<text x="628" y="636.5">Pandalidae-Thalassocaris</text>
</g>
</g>
</svg>
